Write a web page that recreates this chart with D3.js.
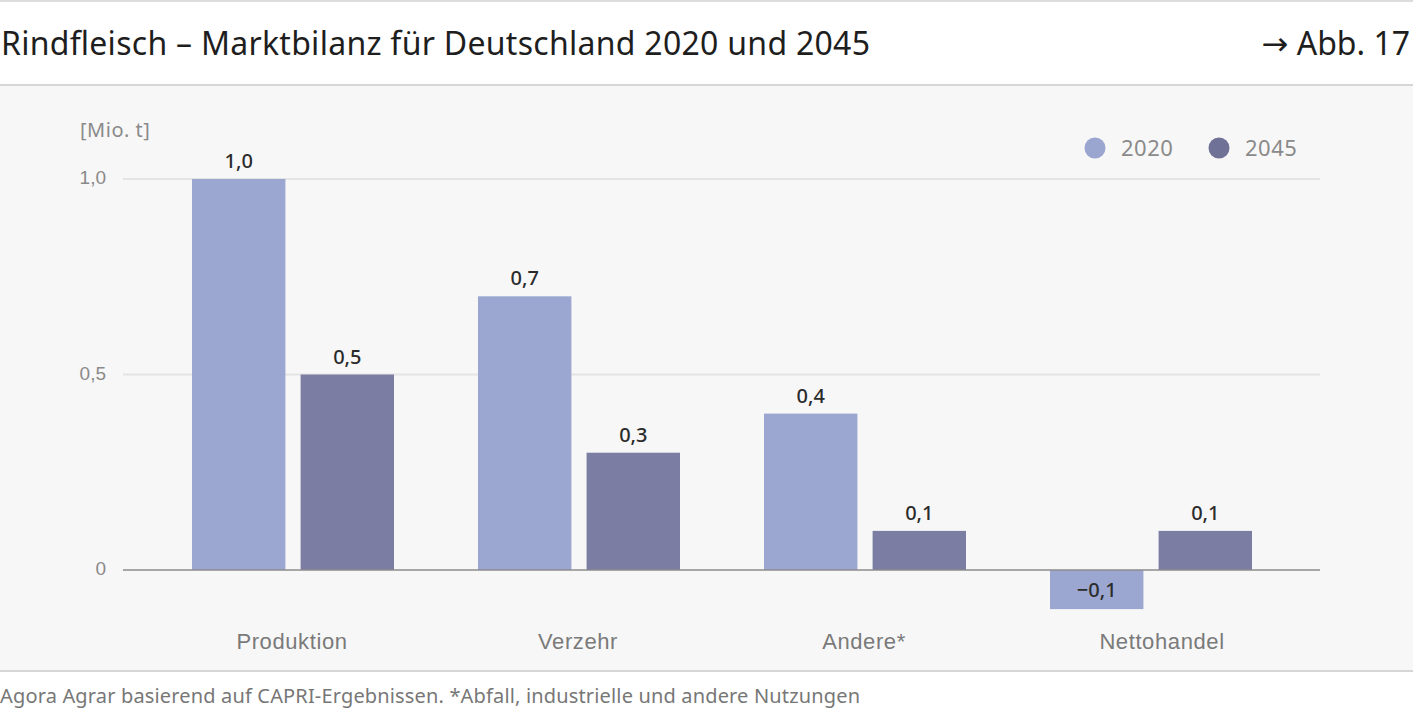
<!DOCTYPE html>
<html>
<head>
<meta charset="utf-8">
<script src="https://cdn.jsdelivr.net/npm/d3@7"></script>
<style>
  html, body { margin: 0; padding: 0; background: #fff; }
  svg { display: block; font-family: "Noto Sans", "DejaVu Sans", sans-serif; }
</style>
</head>
<body>
<svg id="chart" width="1413" height="723"></svg>
<script>
// data
var categories = ["Produktion", "Verzehr", "Andere*", "Nettohandel"];
var years = ["2020", "2045"];
var values2020 = [1.0, 0.7, 0.4, -0.1];
var values2045 = [0.5, 0.3, 0.1, 0.1];
var yTicks = [0, 0.5, 1.0];

var colors = { "2020": "#9ba7d1", "2045": "#7b7ea2" };
var legendColors = { "2020": "#9aa6cf", "2045": "#6f7196" };
var fmt = function (v) {
    var s = Math.abs(v).toFixed(1).replace(".", ",");
    return (v < 0 ? "\u2212" : "") + s;
};

var svg = d3.select("#chart");

// header + frame
svg.append("rect").attr("x", 0).attr("y", 85).attr("width", 1413).attr("height", 586).attr("fill", "#f7f7f7");
svg.append("line").attr("x1", 0).attr("x2", 1413).attr("y1", 1).attr("y2", 1).attr("stroke", "#dcdcdc").attr("stroke-width", 2);
svg.append("line").attr("x1", 0).attr("x2", 1413).attr("y1", 85).attr("y2", 85).attr("stroke", "#d6d6d6").attr("stroke-width", 2);
svg.append("line").attr("x1", 0).attr("x2", 1413).attr("y1", 671).attr("y2", 671).attr("stroke", "#d6d6d6").attr("stroke-width", 2);

svg.append("text").attr("x", 1).attr("y", 55).attr("font-size", 32).attr("fill", "#1e1e1e")
    .attr("textLength", 869).attr("lengthAdjust", "spacing")
    .text("Rindfleisch \u2013 Marktbilanz für Deutschland 2020 und 2045");
svg.append("text").attr("x", 1410).attr("y", 55).attr("font-size", 32).attr("fill", "#1e1e1e")
    .attr("text-anchor", "end").text("\u2192 Abb. 17");
svg.append("text").attr("x", 0).attr("y", 703).attr("font-size", 20).attr("fill", "#777")
    .attr("textLength", 860).attr("lengthAdjust", "spacing")
    .text("Agora Agrar basierend auf CAPRI-Ergebnissen. *Abfall, industrielle und andere Nutzungen");

// scales
var y = d3.scaleLinear().domain([0, 1]).range([570, 179]);
var x0 = d3.scaleBand().domain(categories).range([150, 1294]);
var x1 = d3.scaleBand().domain(years).range([42, 244]).paddingInner(0.14);

// grid
var grid = svg.append("g");
grid.selectAll("line").data(yTicks.filter(function (d) { return d !== 0; })).enter().append("line")
    .attr("x1", 123).attr("x2", 1320)
    .attr("y1", function (d) { return y(d); }).attr("y2", function (d) { return y(d); })
    .attr("stroke", "#e4e4e4").attr("stroke-width", 2);

// y axis labels
var yAxis = d3.axisLeft(y).tickValues(yTicks).tickSize(0).tickPadding(0)
    .tickFormat(function (d) { return d === 0 ? "0" : fmt(d); });
var ya = svg.append("g").attr("transform", "translate(106,0)").call(yAxis);
ya.select(".domain").remove();
ya.selectAll("text").attr("font-size", 19).attr("fill", "#8a8a8a").attr("font-family", null).attr("dy", "0.25em");

svg.append("text").attr("x", 80).attr("y", 137).attr("font-size", 20).attr("fill", "#8a8a8a")
    .attr("letter-spacing", 0.5).text("[Mio. t]");

// bars
var rows = categories.map(function (c, i) {
    return { cat: c, vals: [{ year: "2020", v: values2020[i] }, { year: "2045", v: values2045[i] }] };
});
var groups = svg.append("g").selectAll("g").data(rows).enter().append("g")
    .attr("transform", function (d) { return "translate(" + x0(d.cat) + ",0)"; });

groups.selectAll("rect").data(function (d) { return d.vals; }).enter().append("rect")
    .attr("x", function (d) { return x1(d.year); })
    .attr("width", x1.bandwidth())
    .attr("y", function (d) { return y(Math.max(0, d.v)); })
    .attr("height", function (d) { return Math.abs(y(d.v) - y(0)); })
    .attr("fill", function (d) { return colors[d.year]; });

groups.selectAll("text.val").data(function (d) { return d.vals; }).enter().append("text")
    .attr("class", "val")
    .attr("x", function (d) { return x1(d.year) + x1.bandwidth() / 2; })
    .attr("y", function (d) { return d.v >= 0 ? y(d.v) - 11 : (y(0) + y(d.v)) / 2 + 7; })
    .attr("text-anchor", "middle").attr("font-size", 20).attr("font-weight", 500).attr("fill", "#2b2b2b")
    .text(function (d) { return fmt(d.v); });

// zero line
svg.append("line").attr("x1", 123).attr("x2", 1320).attr("y1", y(0)).attr("y2", y(0))
    .attr("stroke", "#8c8c8c").attr("stroke-width", 1.5);

// category axis
var xAxis = d3.axisBottom(x0).tickSize(0).tickPadding(0);
var xa = svg.append("g").attr("transform", "translate(0,649)").call(xAxis);
xa.select(".domain").remove();
xa.selectAll("text").attr("font-size", 22).attr("fill", "#7a7a7a").attr("font-family", null)
    .attr("letter-spacing", 0.6).attr("dy", 0);
xa.selectAll(".tick").attr("transform", function (d, i) { return "translate(" + (x0(d) + 142 + (i === 3 ? 12 : 0)) + ",0)"; });

// legend
var legend = svg.append("g").selectAll("g").data(years).enter().append("g")
    .attr("transform", function (d, i) { return "translate(" + (1095 + i * 124) + ",148)"; });
legend.append("circle").attr("r", 10.5).attr("fill", function (d) { return legendColors[d]; });
legend.append("text").attr("x", 26).attr("y", 8).attr("font-size", 22).attr("fill", "#8a8a8a")
    .attr("letter-spacing", 0.5).text(function (d) { return d; });
</script>
</body>
</html>
